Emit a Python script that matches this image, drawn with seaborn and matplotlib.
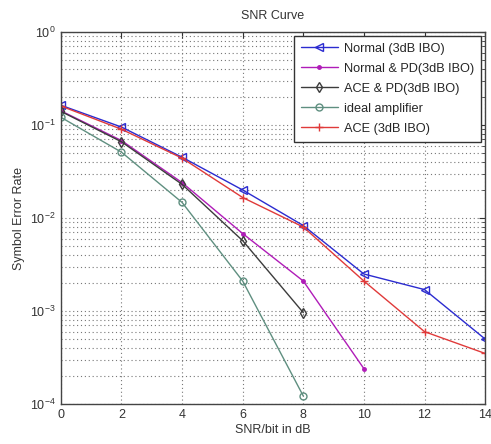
import numpy as np
import pandas as pd
import matplotlib
matplotlib.use("Agg")
import matplotlib.pyplot as plt
import seaborn as sns
from matplotlib.ticker import LogLocator, NullFormatter

snr_full = [0, 2, 4, 6, 8, 10, 12, 14]
snr_8 = [0, 2, 4, 6, 8]
snr_10 = [0, 2, 4, 6, 8, 10]

ser_normal = [0.163, 0.095, 0.045, 0.020, 0.0083, 0.0025, 0.0017, 0.00050]
ser_normal_pd = [0.142, 0.068, 0.024, 0.0068, 0.0021, 0.00024]
ser_ace_pd = [0.140, 0.066, 0.023, 0.0057, 0.00096]
ser_ideal = [0.121, 0.051, 0.0147, 0.0021, 0.000122]
ser_ace = [0.160, 0.090, 0.044, 0.0166, 0.0080, 0.0021, 0.00060, 0.00035]

labels = ["Normal (3dB IBO)", "Normal & PD(3dB IBO)", "ACE & PD(3dB IBO)",
          "ideal amplifier", "ACE (3dB IBO)"]

frames = [
    pd.DataFrame({"snr": snr_full, "ser": ser_normal, "curve": labels[0]}),
    pd.DataFrame({"snr": snr_10, "ser": ser_normal_pd, "curve": labels[1]}),
    pd.DataFrame({"snr": snr_8, "ser": ser_ace_pd, "curve": labels[2]}),
    pd.DataFrame({"snr": snr_8, "ser": ser_ideal, "curve": labels[3]}),
    pd.DataFrame({"snr": snr_full, "ser": ser_ace, "curve": labels[4]}),
]

styles = {
    labels[0]: dict(color="#2b2bd0", marker="<", mfc="none", ms=5.5),
    labels[1]: dict(color="#b01cb8", marker=".", mfc="#b01cb8", ms=5),
    labels[2]: dict(color="#3c3c3c", marker="d", mfc="none", ms=5),
    labels[3]: dict(color="#5f8f80", marker="o", mfc="none", ms=5),
    labels[4]: dict(color="#e03a3a", marker="+", mfc="none", ms=6),
}

sns.set_style("white")
plt.rcParams["font.family"] = ["Liberation Sans", "DejaVu Sans"]

fig = plt.figure(figsize=(4.91, 4.44), dpi=100)
ax = fig.add_axes([0.124, 0.090, 0.864, 0.838])

for df in frames:
    name = df["curve"].iloc[0]
    st = styles[name]
    sns.lineplot(data=df, x="snr", y="ser", ax=ax, color=st["color"],
                 marker=st["marker"], markersize=st["ms"],
                 markerfacecolor=st["mfc"], markeredgecolor=st["color"],
                 markeredgewidth=1.0, linewidth=1.0, label=name)

ax.set_yscale("log")
ax.set_xlim(0, 14)
ax.set_ylim(1e-4, 1)
ax.set_xticks(np.arange(0, 15, 2))
ax.yaxis.set_major_locator(LogLocator(base=10, numticks=10))
ax.yaxis.set_minor_locator(LogLocator(base=10, subs=np.arange(2, 10), numticks=20))
ax.yaxis.set_minor_formatter(NullFormatter())

grid_kw = dict(linestyle=(0, (1, 2.5)), color="#777777", linewidth=0.8)
ax.grid(True, which="major", axis="both", **grid_kw)
ax.grid(True, which="minor", axis="y", **grid_kw)

ax.tick_params(which="both", direction="in", top=True, right=True, labelsize=9,
               colors="#333333")
ax.tick_params(which="major", length=4)
ax.tick_params(which="minor", length=2)
for sp in ax.spines.values():
    sp.set_color("#444444")
    sp.set_linewidth(1.0)

ax.set_title("SNR Curve", fontsize=9, color="#333333", pad=9)
ax.set_xlabel("SNR/bit in dB", fontsize=9, color="#333333", labelpad=2)
ax.set_ylabel("Symbol Error Rate", fontsize=9, color="#333333", labelpad=4)

leg = ax.legend(loc="upper right", fontsize=9.2, frameon=True, fancybox=False,
                borderaxespad=0.3, handlelength=2.9, handletextpad=0.5,
                labelspacing=0.62, borderpad=0.55)
leg.get_frame().set_edgecolor("#333333")
leg.get_frame().set_linewidth(1.0)
leg.get_frame().set_alpha(1.0)

fig.savefig("out.png", dpi=100, facecolor="white")
